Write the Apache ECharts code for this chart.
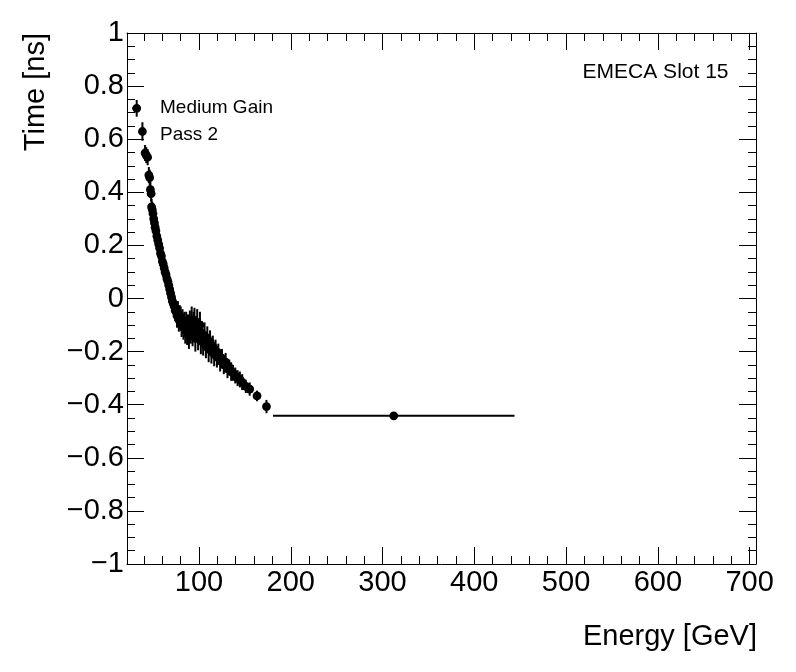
<!DOCTYPE html>
<html>
<head>
<meta charset="utf-8">
<script src="https://cdn.jsdelivr.net/npm/echarts@6/dist/echarts.min.js"></script>
<style>
html,body{margin:0;padding:0;background:#fff;}
#chart{width:796px;height:672px;}
</style>
</head>
<body>
<div id="chart"></div>
<script>
// Energy bin centres [GeV]
const energy = [
  38.3, 41.2, 42.5, 44.0, 45.3, 46.2, 47.0, 47.8, 48.3, 49.0, 49.8, 50.6, 51.4, 52.2,
  53.0, 54.0, 55.0, 56.0, 57.0, 58.0, 59.0, 60.0, 61.0, 62.0, 63.0, 64.0, 65.0, 66.0,
  67.0, 68.0, 69.0, 70.0, 71.0, 72.0, 73.0, 74.0, 75.0, 76.0, 77.0, 78.0, 79.0,
  80, 81, 82, 83, 84, 85, 86, 87, 88, 89, 90, 91, 92, 93, 94, 95, 96, 97, 98, 99,
  100, 101, 102, 103, 104.5, 106, 107.5, 109, 110.5, 112, 113.5, 115, 116.5, 118, 119.5,
  121, 123, 125, 127, 129, 131, 133, 135, 137, 139.5, 142, 144.5, 147, 151, 155.2, 163.2, 173.5,
  312.2
];
// Mean time [ns]
const time = [
  0.629, 0.548, 0.540, 0.532, 0.465, 0.455, 0.410, 0.395, 0.345, 0.335, 0.320, 0.300, 0.285, 0.268,
  0.255, 0.235, 0.220, 0.205, 0.190, 0.170, 0.160, 0.140, 0.130, 0.115, 0.100, 0.090, 0.075, 0.065,
  0.050, 0.035, 0.020, 0.005, -0.010, -0.020, -0.030, -0.045, -0.050, -0.065, -0.055, -0.080, -0.070,
  -0.070, -0.100, -0.085, -0.110, -0.095, -0.120, -0.100, -0.130, -0.105, -0.140, -0.090, -0.120, -0.080, -0.135, -0.100, -0.085, -0.150, -0.110, -0.090, -0.145,
  -0.120, -0.100, -0.160, -0.130, -0.165, -0.140, -0.180, -0.150, -0.190, -0.165, -0.200, -0.180, -0.210, -0.195, -0.220,
  -0.205, -0.235, -0.225, -0.250, -0.240, -0.265, -0.260, -0.275, -0.280, -0.290, -0.300, -0.305, -0.315, -0.331, -0.341, -0.367, -0.407,
  -0.442
];
// Error on the mean time [ns]
const timeErr = [
  0.035, 0.030, 0.030, 0.030, 0.030, 0.030, 0.030, 0.030, 0.030, 0.030, 0.030, 0.030, 0.030, 0.030,
  0.030, 0.030, 0.030, 0.030, 0.030, 0.030, 0.030, 0.030, 0.030, 0.030, 0.030, 0.030, 0.030, 0.030,
  0.035, 0.035, 0.035, 0.035, 0.035, 0.035, 0.040, 0.040, 0.040, 0.045, 0.045, 0.045, 0.045,
  0.040, 0.045, 0.045, 0.045, 0.045, 0.050, 0.050, 0.045, 0.045, 0.050, 0.045, 0.050, 0.050, 0.045, 0.050, 0.050, 0.050, 0.045, 0.050, 0.050,
  0.045, 0.050, 0.050, 0.045, 0.050, 0.050, 0.045, 0.045, 0.050, 0.045, 0.045, 0.040, 0.045, 0.040, 0.040,
  0.035, 0.040, 0.035, 0.035, 0.035, 0.035, 0.030, 0.035, 0.030, 0.030, 0.030, 0.030, 0.030, 0.025, 0.025, 0.020, 0.025,
  0.005
];
// Half bin width [GeV]
const energyErr = [
  0.4, 0.4, 0.4, 0.4, 0.4, 0.4, 0.4, 0.4, 0.4, 0.4, 0.4, 0.4, 0.4, 0.4,
  0.4, 0.4, 0.4, 0.4, 0.4, 0.4, 0.4, 0.4, 0.4, 0.4, 0.4, 0.4, 0.4, 0.4,
  0.4, 0.4, 0.4, 0.4, 0.4, 0.4, 0.4, 0.4, 0.4, 0.4, 0.4, 0.4, 0.4,
  0.6, 0.6, 0.6, 0.6, 0.6, 0.6, 0.6, 0.6, 0.6, 0.6, 0.6, 0.6, 0.6, 0.6, 0.6, 0.6, 0.6, 0.6, 0.6, 0.6,
  0.6, 0.6, 0.6, 0.6, 0.6, 0.6, 0.6, 0.6, 0.6, 0.6, 0.6, 0.6, 0.6, 0.6, 0.6,
  1.0, 1.0, 1.0, 1.0, 1.0, 1.0, 1.0, 1.0, 1.0, 1.0, 1.0, 1.0, 1.0, 1.0, 1.0, 1.0, 1.0,
  131.6
];
const xRange = [21.5, 707];
const yRange = [-1, 1];
const xTitle = 'Energy [GeV]';
const yTitle = 'Time [ns]';
const legendLabels = ['Medium Gain', 'Pass 2'];
const cornerLabel = 'EMECA Slot 15';

const FONT = 'Liberation Sans, Arial, Helvetica, sans-serif';
const pts = energy.map((e, i) => [e, time[i], energyErr[i], timeErr[i]]);

function yFmt(v) {
  const r = Math.round(v * 10) / 10;
  if (r === 0) return '0';
  const a = Math.abs(r);
  const s = a === 1 ? '1' : a.toFixed(1);
  return (r < 0 ? '\u2212' : '') + s;
}
function xFmt(v) {
  return (Math.abs(v % 100) < 1e-6) ? String(v) : '';
}

function xAxisCfg(pos, step, major) {
  return {
    type: 'value', position: pos, min: xRange[0], max: xRange[1],
    minInterval: step, maxInterval: step, splitNumber: 7,
    axisLine: { show: major, onZero: false, lineStyle: { color: '#000', width: 1 } },
    axisTick: { show: true, inside: true, length: major ? 17 : 8, lineStyle: { color: '#000', width: 1 } },
    axisLabel: { show: major && pos === 'bottom', formatter: xFmt, fontSize: 29, color: '#000', fontFamily: FONT, margin: 4,
      showMinLabel: false, showMaxLabel: false },
    splitLine: { show: false }
  };
}
function yAxisCfg(pos) {
  return {
    type: 'value', position: pos, min: yRange[0], max: yRange[1], interval: 0.2,
    axisLine: { show: true, onZero: false, lineStyle: { color: '#000', width: 1 } },
    axisTick: { show: true, inside: true, length: 17, lineStyle: { color: '#000', width: 1 } },
    minorTick: { show: true, splitNumber: 4, length: 8, lineStyle: { color: '#000', width: 1 } },
    axisLabel: { show: pos === 'left', formatter: yFmt, fontSize: 29, color: '#000', fontFamily: FONT, margin: 3 },
    splitLine: { show: false }, minorSplitLine: { show: false }
  };
}

function textEl(str, x, y, size, align, rot) {
  return {
    type: 'text', x: x, y: y, rotation: rot || 0, silent: true,
    style: { text: str, fill: '#000', font: size + 'px ' + FONT,
      align: align, verticalAlign: 'middle', textAlign: align, textVerticalAlign: 'middle' }
  };
}

const chart = echarts.init(document.getElementById('chart'), null, { renderer: 'canvas' });
chart.setOption({
  backgroundColor: '#fff',
  animation: false,
  grid: { left: 127, right: 40, top: 33, bottom: 108, containLabel: false },
  xAxis: [
    xAxisCfg('bottom', 100, true),
    xAxisCfg('bottom', 20, false),
    xAxisCfg('top', 100, true),
    xAxisCfg('top', 20, false)
  ],
  yAxis: [yAxisCfg('left'), yAxisCfg('right')],
  graphic: [
    textEl(xTitle, 757, 637, 29, 'right'),
    textEl(yTitle, 36, 33, 29, 'right', Math.PI / 2),
    textEl(cornerLabel, 728.5, 72, 21, 'right'),
    textEl(legendLabels[0], 160, 107.5, 19, 'left'),
    textEl(legendLabels[1], 160, 135, 19, 'left'),
    { type: 'line', silent: true, shape: { x1: 136.7, y1: 100, x2: 136.7, y2: 116.7 }, style: { stroke: '#000', lineWidth: 2 } },
    { type: 'line', silent: true, shape: { x1: 132.3, y1: 108.3, x2: 141, y2: 108.3 }, style: { stroke: '#000', lineWidth: 2 } },
    { type: 'circle', silent: true, shape: { cx: 136.7, cy: 108.3, r: 4.4 }, style: { fill: '#000' } }
  ],
  series: [{
    type: 'custom',
    xAxisIndex: 0, yAxisIndex: 0,
    data: pts,
    encode: { x: 0, y: 1 },
    clip: true,
    renderItem: function (params, api) {
      const x = api.value(0), y = api.value(1), ex = api.value(2), ey = api.value(3);
      const c = api.coord([x, y]);
      const t = api.coord([x, y + ey]);
      const b = api.coord([x, y - ey]);
      const l = api.coord([x - ex, y]);
      const r = api.coord([x + ex, y]);
      return {
        type: 'group',
        children: [
          { type: 'line', shape: { x1: t[0], y1: t[1], x2: b[0], y2: b[1] }, style: { stroke: '#000', lineWidth: 2 } },
          { type: 'line', shape: { x1: l[0], y1: l[1], x2: r[0], y2: r[1] }, style: { stroke: '#000', lineWidth: 2 } },
          { type: 'circle', shape: { cx: c[0], cy: c[1], r: 4.4 }, style: { fill: '#000' } }
        ]
      };
    }
  }]
});
</script>
</body>
</html>
